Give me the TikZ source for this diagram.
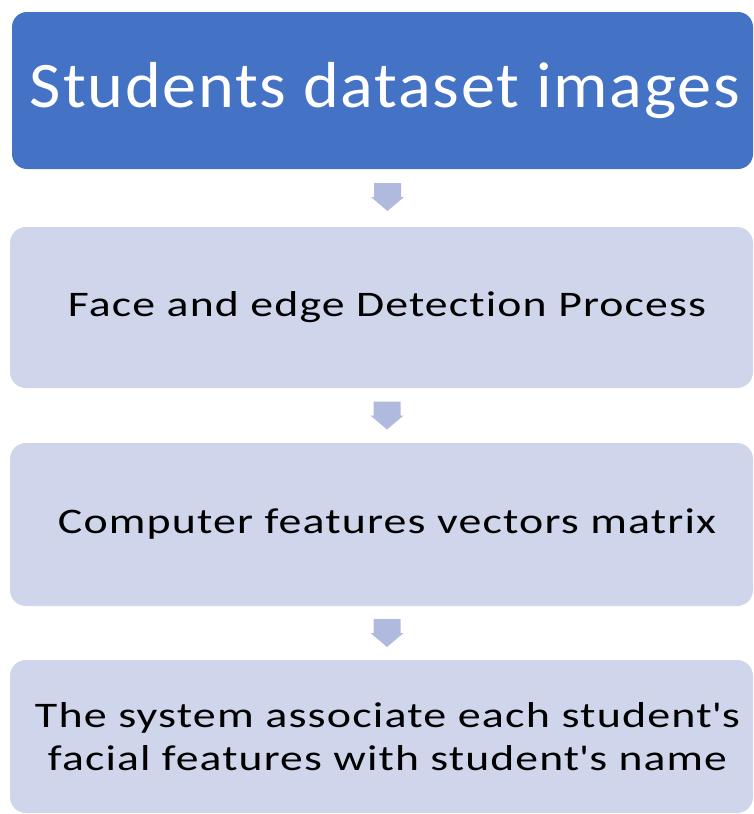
\documentclass[tikz,border=0pt]{standalone}
\usepackage{fontspec}
\usepackage{graphicx}
\setmainfont{Carlito}[Ligatures=NoCommon]
\usetikzlibrary{calc}
\definecolor{headblue}{HTML}{4472C4}
\definecolor{stepfill}{HTML}{CFD5EA}
\definecolor{arrowfill}{HTML}{AFBADE}
% set a line of text to a fixed width, with slightly loose letter spacing
\newcommand{\widetext}[2]{\resizebox{#1}{\height}{\addfontfeature{LetterSpace=2.5}#2}}
\tikzset{
  headbox/.style={fill=headblue, rounded corners=15pt, text=white, align=center,
    font=\fontsize{65}{70}\selectfont, inner sep=0pt},
  stepbox/.style={fill=stepfill, rounded corners=16pt, text=black, align=center,
    font=\fontsize{36}{42.5}\selectfont, inner sep=0pt},
  downarrow/.style={fill=arrowfill},
}
\newcommand{\blockarrow}[1]{%
  \fill[downarrow] ($(#1)+(-13.5,14)$) -- ($(#1)+(13.5,14)$) -- ($(#1)+(13.5,0)$)
    -- ($(#1)+(16.5,0)$) -- ($(#1)+(0,-14)$) -- ($(#1)+(-16.5,0)$)
    -- ($(#1)+(-13.5,0)$) -- cycle;}
\begin{document}
\begin{tikzpicture}[x=1pt,y=1pt]
  \useasboundingbox (0,0) rectangle (754,-814);
  \node[headbox, minimum width=741pt, minimum height=157pt] (b1) at (382.5,-90.5)
    {\hspace*{5pt}\widetext{710pt}{Students dataset images}};
  \node[stepbox, minimum width=743pt, minimum height=161pt] (b2) at (381.5,-307.5)
    {\hspace*{11pt}\widetext{638pt}{Face and edge Detection Process}};
  \node[stepbox, minimum width=743pt, minimum height=163pt] (b3) at (381.5,-524.5)
    {\hspace*{11pt}\widetext{658pt}{Computer features vectors matrix}};
  \node[stepbox, minimum width=743pt, minimum height=153pt] (b4) at (381.5,-736.5)
    {\hspace*{12pt}\widetext{705pt}{The system associate each student\textquotesingle s}\\
     \hspace*{12pt}\widetext{679pt}{facial features with student\textquotesingle s name}};
  % block arrows between consecutive steps
  \coordinate (m1) at ($(b1.south)!0.5!(b2.north)+(5.5,1)$);
  \coordinate (m2) at ($(b2.south)!0.5!(b3.north)+(5.5,0)$);
  \coordinate (m3) at ($(b3.south)!0.5!(b4.north)+(5.5,0)$);
  \blockarrow{m1}
  \blockarrow{m2}
  \blockarrow{m3}
\end{tikzpicture}
\end{document}
